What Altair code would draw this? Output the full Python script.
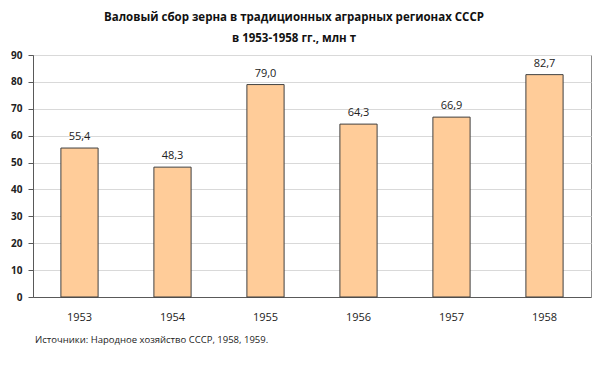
import altair as alt
import pandas as pd

years = ["1953", "1954", "1955", "1956", "1957", "1958"]
values = [55.4, 48.3, 79.0, 64.3, 66.9, 82.7]
title_lines = ["Валовый сбор зерна в традиционных аграрных регионах СССР", "в 1953-1958 гг., млн т"]
source = "Источники: Народное хозяйство СССР, 1958, 1959."

df = pd.DataFrame({"year": years, "value": values})
FONT = "Open Sans"

base = alt.Chart(df).transform_calculate(
    label="replace(format(datum.value, '.1f'), '.', ',')"
)

x = alt.X("year:N", title=None, sort=years,
          scale=alt.Scale(paddingInner=0.6, paddingOuter=0.3),
          axis=alt.Axis(labelAngle=0, ticks=False, labelPadding=14, domainColor="#595959",
                        labelFont=FONT, labelFontSize=11, labelColor="#222"))
y = alt.Y("value:Q", title=None,
          scale=alt.Scale(domain=[0, 90], nice=False),
          axis=alt.Axis(values=list(range(0, 91, 10)), tickSize=5, tickColor="#595959",
                        domainColor="#595959", gridColor="#d9d9d9", labelFont=FONT,
                        labelFontSize=10, labelFontWeight="bold", labelColor="#222", labelPadding=6))

bars = base.mark_bar(color="#FFCC99", stroke="#404040", strokeWidth=1).encode(x=x, y=y)
labels = base.mark_text(baseline="bottom", dy=-6, font=FONT, fontSize=11, color="#222").encode(
    x=x, y=y, text="label:N")
src = alt.Chart(pd.DataFrame({"t": [source]})).mark_text(
    align="left", baseline="middle", font=FONT, fontSize=9.5, color="#222"
).encode(x=alt.value(2), y=alt.value(285), text="t:N")

chart = alt.layer(bars, labels, src).properties(
    width=558, height=242,
    title=alt.Title(title_lines, font=FONT, fontSize=11.5, fontWeight="bold", color="#111",
                    anchor="middle", dx=-18, offset=6, lineHeight=21),
    autosize=alt.AutoSizeParams(type="none"),
    padding={"left": 33, "top": 55, "right": 9, "bottom": 78},
).configure_view(stroke="#8c8c8c", strokeWidth=1)

chart.save("out.html", embed_options={"renderer": "svg", "actions": False})
